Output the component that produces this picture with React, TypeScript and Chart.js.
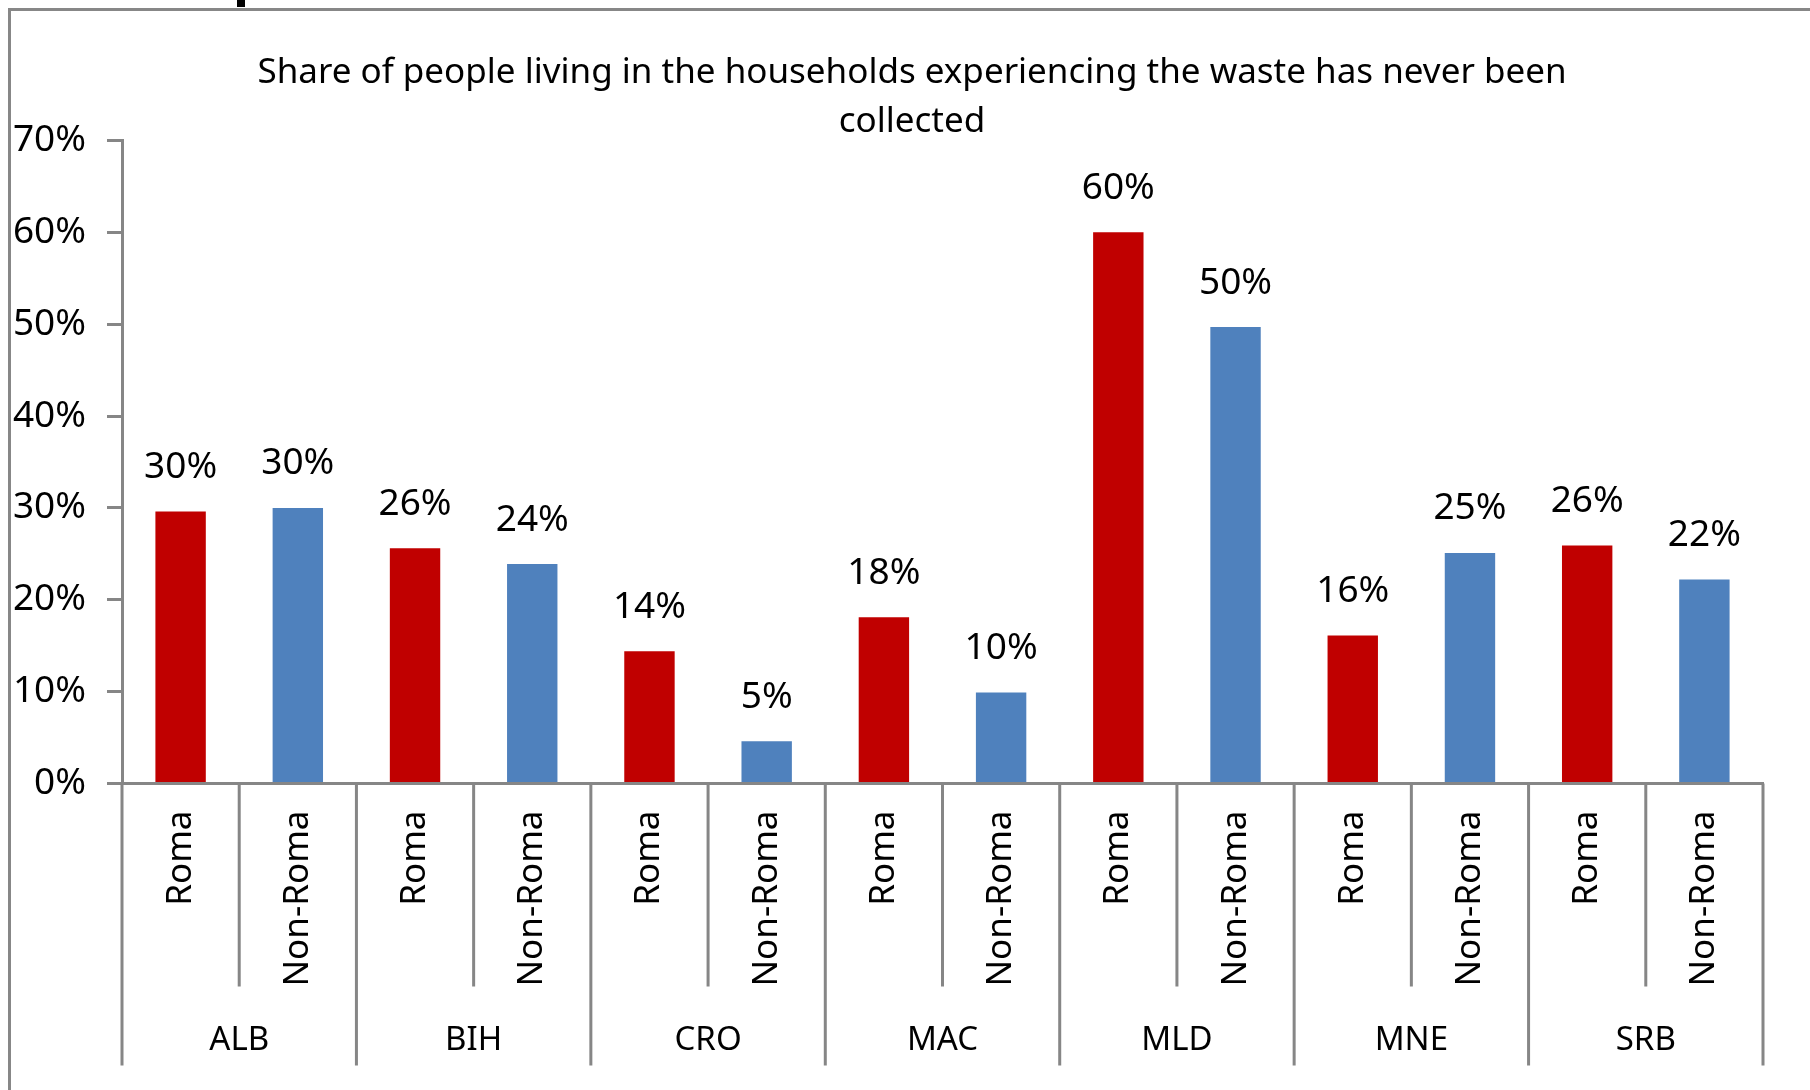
import React, { useEffect, useRef } from "react";
import { Chart, registerables } from "chart.js";

Chart.register(...registerables);

// ---- data ----
const countries = ["ALB", "BIH", "CRO", "MAC", "MLD", "MNE", "SRB"];
const seriesNames = ["Roma", "Non-Roma"];
const romaValues = [0.296, 0.256, 0.144, 0.181, 0.6, 0.161, 0.259];
const nonRomaValues = [0.3, 0.239, 0.046, 0.099, 0.497, 0.251, 0.222];
const yTickValues = [0, 0.1, 0.2, 0.3, 0.4, 0.5, 0.6, 0.7];
const titleLines = [
  "Share of people living in the households experiencing the waste has never been",
  "collected",
];

const FONT = "'Noto Sans', 'DejaVu Sans', sans-serif";
const AXIS_GRAY = "#868686";
const RED = "#C00000";
const BLUE = "#4F81BD";

const pct = (v: number) => Math.round(v * 100) + "%";

const decorPlugin = {
  id: "decor",
  beforeDraw(chart: any) {
    const ctx = chart.ctx;
    ctx.save();
    ctx.fillStyle = "#ffffff";
    ctx.fillRect(0, 0, chart.width, chart.height);
    // outer frame (extends past right/bottom edges)
    ctx.strokeStyle = "#878787";
    ctx.lineWidth = 3;
    ctx.strokeRect(9.5, 9.5, chart.width + 20, chart.height + 20);
    // cut-off descender of text above the frame
    ctx.fillStyle = "#000000";
    ctx.fillRect(237, 0, 8, 7);
    ctx.restore();
  },
  afterDraw(chart: any) {
    const ctx = chart.ctx;
    const xs = chart.scales.x;
    const area = chart.chartArea;
    const n = countries.length;
    const catW = (xs.right - xs.left) / n;
    const axisY = area.bottom;

    ctx.save();
    // title
    ctx.fillStyle = "#000";
    ctx.font = `35px ${FONT}`;
    ctx.textAlign = "center";
    ctx.textBaseline = "middle";
    ctx.fillText(titleLines[0], 912, 73.5);
    ctx.fillText(titleLines[1], 912, 122);

    // divider lines
    ctx.strokeStyle = AXIS_GRAY;
    ctx.lineWidth = 3;
    ctx.beginPath();
    for (let i = 0; i <= n; i++) {
      const x = xs.left + i * catW;
      ctx.moveTo(x, axisY);
      ctx.lineTo(x, axisY + 282);
    }
    for (let i = 0; i < n; i++) {
      const x = xs.left + (i + 0.5) * catW;
      ctx.moveTo(x, axisY);
      ctx.lineTo(x, axisY + 203);
    }
    ctx.stroke();

    // series labels (rotated)
    ctx.font = `35px ${FONT}`;
    ctx.fillStyle = "#000";
    for (let i = 0; i < n; i++) {
      for (let j = 0; j < seriesNames.length; j++) {
        const x = xs.left + (i + (j + 0.5) / 2) * catW;
        ctx.save();
        ctx.translate(x, axisY + 27);
        ctx.rotate(-Math.PI / 2);
        ctx.textAlign = "right";
        ctx.textBaseline = "middle";
        ctx.fillText(seriesNames[j], 0, 0);
        ctx.restore();
      }
    }

    // country labels
    ctx.font = `33px ${FONT}`;
    ctx.textAlign = "center";
    ctx.textBaseline = "middle";
    for (let i = 0; i < n; i++) {
      ctx.fillText(countries[i], xs.getPixelForValue(i), axisY + 257);
    }

    // data labels
    ctx.font = `37px ${FONT}`;
    chart.data.datasets.forEach((ds: any, di: number) => {
      const meta = chart.getDatasetMeta(di);
      meta.data.forEach((el: any, k: number) => {
        ctx.fillText(pct(ds.data[k]), el.x, el.y - 44);
      });
    });
    ctx.restore();
  },
};

export default function App() {
  const ref = useRef<HTMLCanvasElement | null>(null);

  useEffect(() => {
    if (!ref.current) return;
    const chart = new Chart(ref.current, {
      type: "bar",
      data: {
        labels: countries,
        datasets: [
          {
            label: seriesNames[0],
            data: romaValues,
            backgroundColor: RED,
            categoryPercentage: 1,
            barPercentage: 0.43,
          },
          {
            label: seriesNames[1],
            data: nonRomaValues,
            backgroundColor: BLUE,
            categoryPercentage: 1,
            barPercentage: 0.43,
          },
        ],
      },
      options: {
        animation: false,
        responsive: false,
        devicePixelRatio: 1,
        layout: { padding: { top: 140.5, left: 12, right: 47, bottom: 24.5 } },
        plugins: {
          legend: { display: false },
          title: { display: false },
          tooltip: { enabled: false },
        },
        scales: {
          x: {
            grid: { display: false },
            ticks: { display: false },
            border: { display: true, color: AXIS_GRAY, width: 3 },
            afterFit: (s: any) => {
              s.height = 282;
            },
          },
          y: {
            min: 0,
            max: 0.7,
            afterBuildTicks: (s: any) => {
              s.ticks = yTickValues.map((v) => ({ value: v }));
            },
            ticks: {
              callback: (v: any) => pct(Number(v)),
              font: { family: FONT, size: 37 },
              color: "#000",
              padding: 21,
            },
            grid: {
              drawOnChartArea: false,
              drawTicks: true,
              tickLength: 15,
              color: AXIS_GRAY,
              lineWidth: 3,
            },
            border: { display: true, color: AXIS_GRAY, width: 3 },
            afterFit: (s: any) => {
              s.width = 110;
            },
          },
        },
      },
      plugins: [decorPlugin],
    });
    return () => chart.destroy();
  }, []);

  return (
    <div style={{ position: "absolute", left: 0, top: 0, width: 1810, height: 1090 }}>
      <canvas ref={ref} width={1810} height={1090} style={{ width: 1810, height: 1090, display: "block" }} />
    </div>
  );
}
